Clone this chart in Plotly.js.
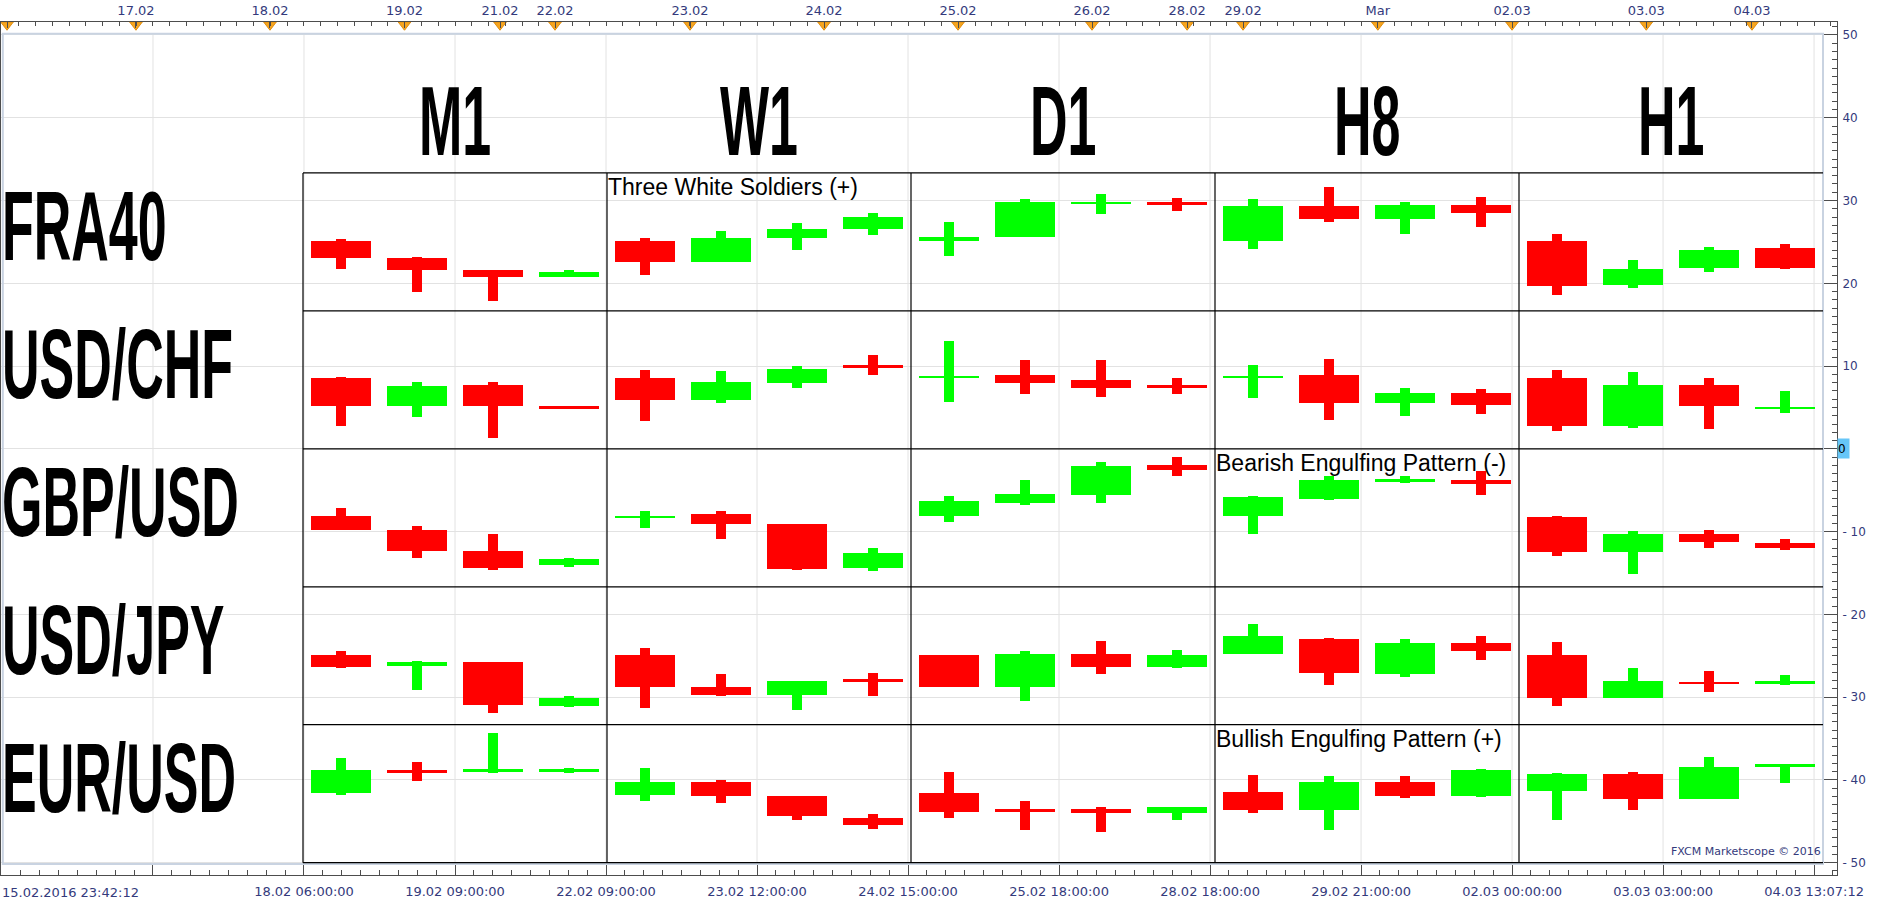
<!DOCTYPE html>
<html>
<head>
<meta charset="utf-8">
<title>Candle pattern matrix</title>
<script src="https://cdn.plot.ly/plotly-3.0.1.min.js"></script>
<style>
  html, body { margin: 0; padding: 0; background: #ffffff; }
  #chart { width: 1903px; height: 905px; }
</style>
</head>
<body>
<div id="chart"></div>
<script>
// ---- Data ---------------------------------------------------------------
// Rows (instruments) and columns (timeframes) of the pattern matrix
const instruments = ['FRA40', 'USD/CHF', 'GBP/USD', 'USD/JPY', 'EUR/USD'];
const timeframes = ['M1', 'W1', 'D1', 'H8', 'H1'];

// OHLC in chart units, 4 candles per timeframe, ordered M1, W1, D1, H8, H1
const fra40Open  = [25.12, 23.07, 21.62, 20.77,  25.12, 22.58, 25.48, 26.57,  25.12, 25.60, 29.59, 29.83,  25.12, 29.35, 27.78, 29.47,  25.12, 19.78, 21.83, 24.28];
const fra40High  = [25.36, 23.19, 21.62, 21.62,  25.48, 26.33, 27.30, 28.50,  27.42, 30.19, 30.80, 30.31,  30.19, 31.64, 29.83, 30.43,  25.97, 22.86, 24.33, 24.76];
const fra40Low   = [21.74, 18.96, 17.87, 20.77,  21.01, 22.58, 24.03, 25.85,  23.31, 25.60, 28.38, 28.74,  24.16, 27.42, 25.97, 26.81,  18.60, 19.49, 21.40, 21.74];
const fra40Close = [23.07, 21.62, 20.77, 21.38,  22.58, 25.48, 26.57, 28.02,  25.60, 29.83, 29.83, 29.47,  29.35, 27.78, 29.47, 28.50,  19.68, 21.69, 24.03, 21.86];

const usdchfOpen  = [8.50, 5.13, 7.76, 5.13,  8.50, 5.86, 7.91, 10.11,  8.50, 8.94, 8.35, 7.76,  8.50, 8.94, 5.57, 6.74,  8.50, 2.78, 7.76, 4.83];
const usdchfHigh  = [8.64, 8.06, 8.06, 5.13,  9.52, 9.38, 9.96, 11.28,  13.04, 10.70, 10.70, 8.50,  10.11, 10.84, 7.32, 7.18,  9.52, 9.23, 8.50, 7.00];
const usdchfLow   = [2.78, 3.81, 1.32, 4.84,  3.37, 5.57, 7.32, 8.94,  5.71, 6.59, 6.30, 6.59,  6.15, 3.51, 3.96, 4.25,  2.19, 2.49, 2.34, 4.35];
const usdchfClose = [5.13, 7.62, 5.13, 4.84,  5.86, 8.06, 9.67, 9.82,  8.79, 7.91, 7.32, 7.32,  8.79, 5.57, 6.74, 5.27,  2.78, 7.76, 5.13, 5.07];

const gbpusdOpen  = [-8.06, -9.82, -12.31, -14.07,  -8.36, -7.92, -9.09, -14.37,  -8.06, -6.60, -5.58, -1.91,  -8.06, -6.01, -3.96, -3.82,  -8.21, -12.46, -10.26, -11.35];
const gbpusdHigh  = [-7.18, -9.38, -10.26, -13.19,  -7.48, -7.48, -9.09, -12.02,  -5.72, -3.82, -1.62, -1.03,  -5.72, -3.23, -3.23, -2.64,  -8.06, -9.97, -9.82, -10.87];
const gbpusdLow   = [-9.82, -13.19, -14.66, -14.22,  -9.53, -10.85, -14.66, -14.81,  -8.80, -6.74, -6.60, -3.23,  -10.26, -6.16, -4.11, -5.58,  -12.90, -15.10, -12.02, -12.20];
const gbpusdClose = [-9.82, -12.31, -14.37, -13.34,  -8.06, -9.09, -14.51, -12.61,  -6.30, -5.43, -2.06, -2.50,  -5.87, -3.82, -3.67, -4.26,  -12.46, -10.26, -11.29, -11.96];

const usdjpyOpen  = [-24.92, -26.24, -25.80, -31.08,  -24.92, -28.73, -29.75, -27.85,  -24.92, -28.73, -24.77, -26.39,  -24.77, -23.02, -27.26, -23.46,  -24.92, -30.05, -28.14, -28.38];
const usdjpyHigh  = [-24.48, -25.65, -25.80, -29.90,  -24.04, -27.26, -28.00, -27.12,  -24.92, -24.48, -23.16, -24.33,  -21.11, -22.87, -23.02, -22.57,  -23.31, -26.53, -26.83, -27.29];
const usdjpyLow   = [-26.53, -29.17, -31.96, -31.22,  -31.37, -29.90, -31.51, -29.90,  -28.73, -30.49, -27.26, -26.53,  -24.77, -28.58, -27.56, -25.50,  -31.08, -30.05, -29.32, -28.50];
const usdjpyClose = [-26.39, -25.80, -30.93, -30.05,  -28.73, -29.75, -28.00, -28.14,  -28.73, -24.77, -26.39, -24.92,  -22.57, -27.12, -23.46, -24.48,  -30.05, -28.00, -28.44, -28.02];

const eurusdOpen  = [-41.63, -38.85, -38.99, -38.99,  -41.77, -40.31, -41.92, -44.56,  -41.63, -43.54, -43.54, -43.97,  -41.48, -43.68, -40.31, -41.92,  -41.33, -39.29, -42.36, -38.41];
const eurusdHigh  = [-37.38, -37.82, -34.30, -38.55,  -38.55, -40.02, -41.92, -44.12,  -39.00, -42.51, -43.24, -43.24,  -39.43, -39.58, -39.58, -38.70,  -39.14, -39.00, -37.23, -38.04];
const eurusdLow   = [-41.77, -40.16, -39.14, -39.14,  -42.51, -42.80, -44.85, -45.88,  -44.56, -46.03, -46.32, -44.85,  -43.97, -46.03, -42.22, -42.07,  -44.85, -43.68, -42.36, -40.34];
const eurusdClose = [-38.85, -39.14, -38.70, -38.70,  -40.31, -41.92, -44.41, -45.44,  -43.83, -43.83, -43.97, -43.24,  -43.68, -40.31, -41.92, -38.85,  -39.29, -42.36, -38.41, -38.04];

// Detected candle patterns: name, instrument, timeframe
const patternNames = ['Three White Soldiers (+)', 'Bearish Engulfing Pattern (-)', 'Bullish Engulfing Pattern (+)'];
const patternInstruments = ['FRA40', 'GBP/USD', 'EUR/USD'];
const patternTimeframes = ['W1', 'H8', 'H8'];

// Time scale: trading hours counted from 15.02.2016 23:42:12
const startLabel = '15.02.2016 23:42:12';
const bottomTickHours  = [27.3, 54.3, 81.3, 108.3, 135.3, 162.3, 189.3, 216.3, 243.3, 270.3, 297.3, 324.3];
const bottomTickLabels = ['', '18.02 06:00:00', '19.02 09:00:00', '22.02 09:00:00', '23.02 12:00:00', '24.02 15:00:00',
                          '25.02 18:00:00', '28.02 18:00:00', '29.02 21:00:00', '02.03 00:00:00', '03.03 03:00:00', '04.03 13:07:12'];
const topTickHours  = [1.2, 24.26, 48.22, 72.27, 89.35, 99.18, 123.32, 147.28, 171.24, 195.2, 212.2, 222.2, 246.3, 270.3, 294.3, 313.2];
const topTickLabels = ['', '17.02', '18.02', '19.02', '21.02', '22.02', '23.02', '24.02', '25.02', '26.02', '28.02', '29.02', 'Mar', '02.03', '03.03', '04.03'];

// Price scale ticks
const priceTicks = [-50, -40, -30, -20, -10, 0, 10, 20, 30, 40, 50];
const copyrightText = 'FXCM Marketscope \u00a9 2016';

// ---- Layout constants ---------------------------------------------------
const ohlc = {
  'FRA40':   [fra40Open, fra40High, fra40Low, fra40Close],
  'USD/CHF': [usdchfOpen, usdchfHigh, usdchfLow, usdchfClose],
  'GBP/USD': [gbpusdOpen, gbpusdHigh, gbpusdLow, gbpusdClose],
  'USD/JPY': [usdjpyOpen, usdjpyHigh, usdjpyLow, usdjpyClose],
  'EUR/USD': [eurusdOpen, eurusdHigh, eurusdLow, eurusdClose]
};
const UP = '#00ff00', DOWN = '#ff0000';
const AXIS = '#4d4d4d', GRID = '#e2e2e2', LABEL = '#343a7c', FRAME = '#c9d3e1';
const CANDLES_PER_CELL = 4;
const FIRST_COL = 4;                 // slot index where the matrix starts (label column before it)
const rowEdges = [100 / 3, 50 / 3, 0, -50 / 3, -100 / 3, -50];
const BODY_W = 60 / 76, WICK_W = 10 / 76;
const BIG_FONT = 52, STRETCH = 1.88;

function colLeft(tfIndex) { return FIRST_COL + CANDLES_PER_CELL * tfIndex; }

// ---- Candles ------------------------------------------------------------
const wx = [], wBase = [], wLen = [], wCol = [];
const bx = [], bBase = [], bLen = [], bCol = [];
instruments.forEach(name => {
  const [o, h, l, c] = ohlc[name];
  o.forEach((open, k) => {
    const tf = Math.floor(k / CANDLES_PER_CELL), i = k % CANDLES_PER_CELL;
    const xc = colLeft(tf) + i + 0.5;
    const color = c[k] >= open ? UP : DOWN;
    wx.push(xc); wBase.push(l[k]); wLen.push(h[k] - l[k]); wCol.push(color);
    bx.push(xc); bBase.push(Math.min(open, c[k])); bLen.push(Math.max(Math.abs(c[k] - open), 0.2)); bCol.push(color);
  });
});

const traces = [
  { type: 'bar', xaxis: 'x2', yaxis: 'y', x: wx, y: wLen, base: wBase, width: WICK_W,
    marker: { color: wCol, line: { width: 0 } }, hoverinfo: 'skip' },
  { type: 'bar', xaxis: 'x2', yaxis: 'y', x: bx, y: bLen, base: bBase, width: BODY_W,
    marker: { color: bCol, line: { width: 0 } }, hoverinfo: 'skip' },
  { type: 'scatter', mode: 'markers', xaxis: 'x3', yaxis: 'y', x: topTickHours,
    y: topTickHours.map(() => 51.24), cliponaxis: false,
    marker: { symbol: 'triangle-down', size: 11, color: '#f7a51f', line: { color: '#e08e10', width: 1 } },
    hoverinfo: 'skip' }
];

// ---- Shapes: frame, grid, matrix lines ------------------------------------
const shapes = [];
bottomTickHours.forEach(h => shapes.push({ type: 'line', xref: 'x', yref: 'y', x0: h, x1: h, y0: -50, y1: 50,
  line: { color: GRID, width: 1 }, layer: 'below' }));
shapes.push({ type: 'rect', xref: 'x2', yref: 'y', x0: 0.05, x1: 24.0, y0: -50.15, y1: 50.15,
  line: { color: FRAME, width: 2 }, layer: 'above' });
rowEdges.forEach(y => shapes.push({ type: 'line', xref: 'x2', yref: 'y', x0: FIRST_COL, x1: 24, y0: y, y1: y,
  line: { color: '#000000', width: 1.2 }, layer: 'above' }));
timeframes.forEach((tf, j) => shapes.push({ type: 'line', xref: 'x2', yref: 'y', x0: colLeft(j), x1: colLeft(j),
  y0: -50, y1: rowEdges[0], line: { color: '#000000', width: 1.2 }, layer: 'above' }));

// ---- Annotations ----------------------------------------------------------
const annotations = [];
const stretched = [];
const bigFont = { family: 'Liberation Sans, Arial, sans-serif', size: BIG_FONT, color: '#000000', weight: 'bold' };
timeframes.forEach((tf, j) => {
  stretched.push(annotations.length);
  annotations.push({ xref: 'x2', yref: 'y', x: colLeft(j) + CANDLES_PER_CELL / 2, y: 39.6, text: tf, showarrow: false,
    xanchor: 'center', yanchor: 'middle', borderpad: 0, font: bigFont });
});
instruments.forEach((name, r) => {
  stretched.push(annotations.length);
  annotations.push({ xref: 'paper', yref: 'y', x: 0, y: (rowEdges[r] + rowEdges[r + 1]) / 2 + 1.93, text: name,
    showarrow: false, xanchor: 'left', yanchor: 'middle', borderpad: 0, font: bigFont });
});
patternNames.forEach((txt, p) => {
  const r = instruments.indexOf(patternInstruments[p]);
  const j = timeframes.indexOf(patternTimeframes[p]);
  annotations.push({ xref: 'x2', yref: 'y', x: colLeft(j), y: rowEdges[r], text: txt, showarrow: false,
    xanchor: 'left', yanchor: 'top', borderpad: 0,
    font: { family: 'Liberation Sans, Arial, sans-serif', size: 23, color: '#000000' } });
});
annotations.push({ xref: 'x2', yref: 'y', x: 24, y: -48.65, text: copyrightText, showarrow: false,
  xanchor: 'right', yanchor: 'middle', borderpad: 0, xshift: -1,
  font: { family: 'DejaVu Sans, sans-serif', size: 11, color: LABEL } });
annotations.push({ xref: 'paper', yref: 'paper', x: 0, y: 0, text: startLabel, showarrow: false,
  xanchor: 'left', yanchor: 'middle', yshift: -17, borderpad: 0,
  font: { family: 'DejaVu Sans, sans-serif', size: 13, color: LABEL } });
annotations.push({ xref: 'paper', yref: 'y', x: 1, y: 0, text: '0', showarrow: false,
  xanchor: 'left', yanchor: 'middle', width: 11, height: 19, borderpad: 0, bgcolor: '#66c6f8', align: 'left',
  font: { family: 'DejaVu Sans, sans-serif', size: 12, color: '#000000' } });

// ---- Axes -----------------------------------------------------------------
const hourRange = [0.125, 328.4];
const tickFont = { family: 'DejaVu Sans, sans-serif', size: 13, color: LABEL };

const layout = {
  width: 1903, height: 905,
  margin: { l: 1, r: 66, t: 22, b: 30, pad: 0 },
  paper_bgcolor: '#ffffff', plot_bgcolor: '#ffffff',
  showlegend: false, barmode: 'overlay', bargap: 0,
  xaxis: {
    type: 'linear', range: hourRange, tickmode: 'array', tickvals: bottomTickHours, ticktext: bottomTickLabels,
    ticks: 'inside', ticklen: 12, tickcolor: AXIS, showline: true, linecolor: AXIS, linewidth: 1,
    showgrid: false, zeroline: false, tickfont: tickFont, ticklabelstandoff: 4,
    minor: { ticks: 'inside', ticklen: 5, tick0: 27.3, dtick: 27 / 8, tickcolor: AXIS, showgrid: false },
    fixedrange: true
  },
  xaxis2: { overlaying: 'x', range: [2 / 76, 1838 / 76], visible: false, fixedrange: true },
  xaxis3: {
    overlaying: 'x', side: 'top', anchor: 'y', type: 'linear', range: hourRange,
    tickmode: 'array', tickvals: topTickHours, ticktext: topTickLabels,
    ticks: 'inside', ticklen: 6, tickcolor: AXIS, showline: true, linecolor: AXIS, linewidth: 1,
    showgrid: false, zeroline: false, tickfont: tickFont, ticklabelstandoff: 1,
    minor: { ticks: 'inside', ticklen: 4, tick0: 0.3, dtick: 3, tickcolor: AXIS, showgrid: false },
    fixedrange: true
  },
  yaxis: {
    side: 'right', range: [-51.49, 51.57], tickmode: 'array', tickvals: priceTicks,
    ticktext: priceTicks.map(v => v < 0 ? '- ' + (-v) : (v === 0 ? '' : String(v))),
    ticks: 'inside', ticklen: 14, tickcolor: AXIS, showline: true, linecolor: AXIS, linewidth: 1, mirror: true,
    showgrid: true, gridcolor: GRID, gridwidth: 1, zeroline: false,
    tickfont: { family: 'DejaVu Sans, sans-serif', size: 12, color: LABEL }, ticklabelstandoff: 2,
    minor: { ticks: 'inside', ticklen: 5, tick0: 0, dtick: 1, tickcolor: AXIS, showgrid: false },
    fixedrange: true
  },
  shapes: shapes,
  annotations: annotations
};

Plotly.newPlot('chart', traces, layout, { displayModeBar: false, responsive: false }).then(gd => {
  // Tall, narrow caption lettering: stretch the row/column captions vertically around their centres
  stretched.forEach(k => {
    const t = gd.querySelector('.annotation[data-index="' + k + '"] text.annotation-text');
    if (!t) return;
    const b = t.getBBox();
    const cy = b.y + b.height / 2;
    t.setAttribute('transform', 'translate(0 ' + cy + ') scale(1 ' + STRETCH + ') translate(0 ' + (-cy) + ')');
  });
});
</script>
</body>
</html>
